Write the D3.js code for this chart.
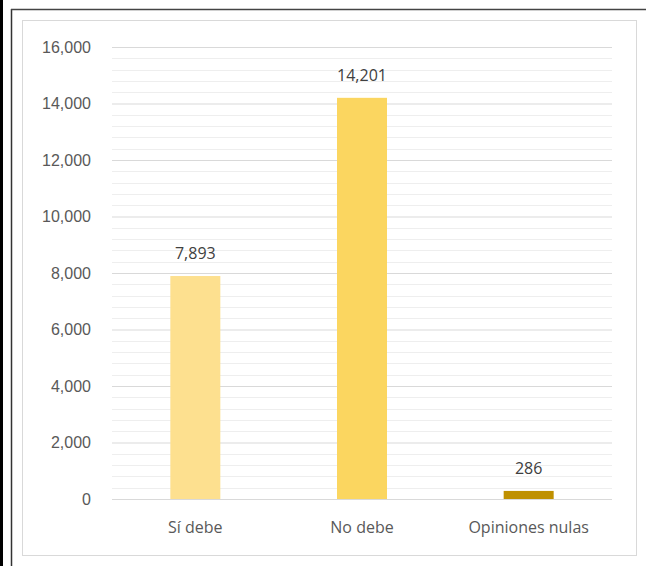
<!DOCTYPE html>
<html>
<head>
<meta charset="utf-8">
<script src="https://cdn.jsdelivr.net/npm/d3@7.9.0/dist/d3.min.js"></script>
<style>
  body { margin: 0; background: #fff; }
  svg { display: block; font-family: "Open Sans", "DejaVu Sans", sans-serif; }
</style>
</head>
<body>
<svg id="chart" width="646" height="566"></svg>
<script>
// chart values
const categories = ['Sí debe', 'No debe', 'Opiniones nulas'];
const values = [7893, 14201, 286];
const barColors = ['#fde08f', '#fbd660', '#bf9000'];
const yTicks = [0, 2000, 4000, 6000, 8000, 10000, 12000, 14000, 16000];

const svg = d3.select('#chart');

// frame bits around the picture
svg.append('rect').attr('x', 0).attr('y', 0).attr('width', 3).attr('height', 566).attr('fill', '#000');
svg.append('line').attr('x1', 11.5).attr('x2', 11.5).attr('y1', 9).attr('y2', 566)
  .attr('stroke', '#333').attr('stroke-width', 1.5);
svg.append('line').attr('x1', 11).attr('x2', 646).attr('y1', 9.5).attr('y2', 9.5)
  .attr('stroke', '#444').attr('stroke-width', 1.5);
svg.append('rect').attr('x', 22.5).attr('y', 20.5).attr('width', 614).attr('height', 535)
  .attr('fill', '#fff').attr('stroke', '#d9d9d9');

const plotLeft = 112, plotRight = 612, plotTop = 47, plotBottom = 499;
const fontSize = 16;

const x = d3.scaleBand().domain(categories).range([plotLeft, plotRight]).paddingInner(0.7).paddingOuter(0.35);
const y = d3.scaleLinear().domain([0, 16000]).range([plotBottom, plotTop]);

// minor gridlines every 400
const minor = d3.range(0, 16001, 400).filter(v => v % 2000 !== 0);
svg.append('g').selectAll('line').data(minor).join('line')
  .attr('x1', plotLeft).attr('x2', plotRight)
  .attr('y1', d => Math.round(y(d)) + 0.5).attr('y2', d => Math.round(y(d)) + 0.5)
  .attr('stroke', '#eeeeee');

// major gridlines + labels
const yAxis = svg.append('g').attr('transform', `translate(${plotLeft},0)`)
  .call(d3.axisLeft(y).tickValues(yTicks).tickSize(-(plotRight - plotLeft)).tickPadding(21)
    .tickFormat(d3.format(',')));
yAxis.select('.domain').remove();
yAxis.selectAll('.tick line').attr('stroke', '#d9d9d9');
yAxis.selectAll('.tick text').attr('fill', '#595959').attr('font-size', fontSize);

// bars
svg.append('g').selectAll('rect').data(values).join('rect')
  .attr('x', (d, i) => x(categories[i]))
  .attr('width', x.bandwidth())
  .attr('y', d => y(d))
  .attr('height', d => y(0) - y(d))
  .attr('fill', (d, i) => barColors[i]);

// value labels
svg.append('g').selectAll('text').data(values).join('text')
  .attr('x', (d, i) => x(categories[i]) + x.bandwidth() / 2)
  .attr('y', d => y(d) - 17)
  .attr('text-anchor', 'middle')
  .attr('fill', '#404040')
  .attr('font-size', fontSize)
  .text(d => d3.format(',')(d));

// category labels
svg.append('g').selectAll('text').data(categories).join('text')
  .attr('x', d => x(d) + x.bandwidth() / 2)
  .attr('y', 533)
  .attr('text-anchor', 'middle')
  .attr('fill', '#595959')
  .attr('font-size', fontSize)
  .text(d => d);
</script>
</body>
</html>
